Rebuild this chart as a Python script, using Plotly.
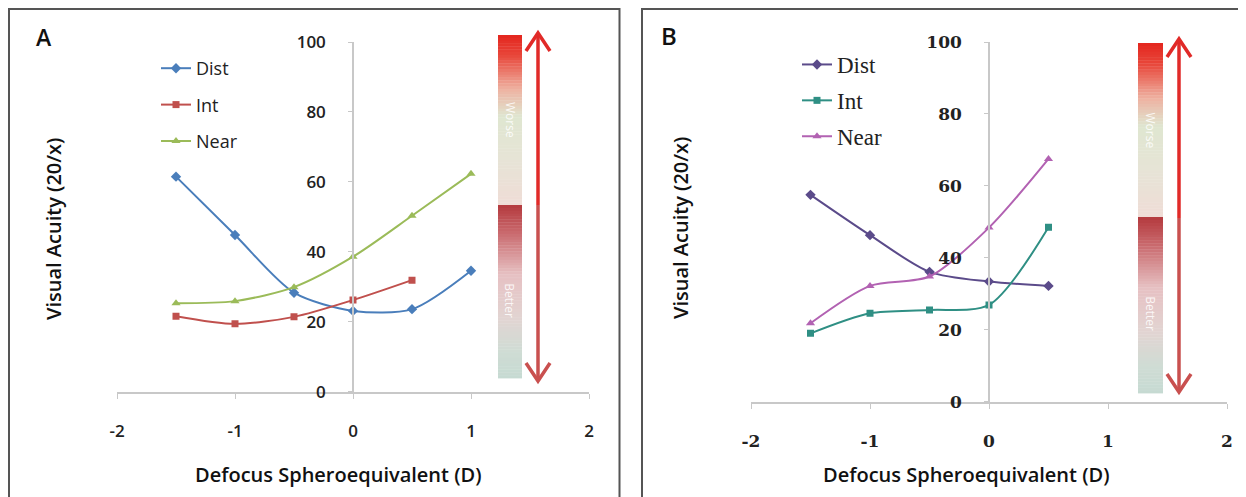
import plotly.graph_objects as go

# page is shown with an 8px body margin; figure is sized to fit the window
OFF = 8
W, H = 1246 - OFF, 497 - OFF

# ---------------- data ----------------
x_a = [-1.5, -1.0, -0.5, 0.0, 0.5, 1.0]
dist_a = [61.5, 44.8, 28.3, 23.1, 23.6, 34.6]
x_int_a = [-1.5, -1.0, -0.5, 0.0, 0.5]
int_a = [21.6, 19.4, 21.4, 26.2, 31.9]
near_a = [25.3, 25.9, 29.9, 38.6, 50.3, 62.3]

x_b = [-1.5, -1.0, -0.5, 0.0, 0.5]
dist_b = [57.5, 46.3, 36.1, 33.4, 32.2]
int_b = [19.0, 24.6, 25.5, 26.9, 48.5]
near_b = [21.8, 32.2, 34.8, 48.4, 67.5]

x_ticks = [-2, -1, 0, 1, 2]
x_tick_text = ["-2", "-1", "0", "1", "2"]
y_ticks = [0, 20, 40, 60, 80, 100]
series_names = ["Dist", "Int", "Near"]
panel_labels = ["A", "B"]
x_title = "Defocus Spheroequivalent (D)"
y_title = "Visual Acuity (20/x)"
scale_labels = ["Worse", "Better"]


def px(x):
    return (x - OFF) / W


def py(y):
    return 1 - (y - OFF) / H


def hex2rgb(h):
    h = h.lstrip("#")
    return tuple(int(h[i:i + 2], 16) for i in (0, 2, 4))


def interp(stops, t):
    for (t0, c0), (t1, c1) in zip(stops[:-1], stops[1:]):
        if t0 <= t <= t1:
            f = (t - t0) / (t1 - t0) if t1 > t0 else 0
            a, b = hex2rgb(c0), hex2rgb(c1)
            return "rgb(%d,%d,%d)" % tuple(round(a[i] + (b[i] - a[i]) * f) for i in range(3))
    return stops[-1][1]


fig = go.Figure()

sans = "Open Sans"
serif = "DejaVu Serif"

cols_a = ["#4a7ebb", "#c0504d", "#9bbb59"]
syms = ["diamond", "square", "triangle-up"]
msize = [8, 7, 8]
xs_a = [x_a, x_int_a, x_a]
ys_a = [dist_a, int_a, near_a]
for i in range(3):
    fig.add_trace(go.Scatter(
        x=xs_a[i], y=ys_a[i], name=series_names[i], mode="lines+markers",
        line=dict(color=cols_a[i], width=2, shape="spline", smoothing=0.8),
        marker=dict(symbol=syms[i], size=msize[i], color=cols_a[i]),
        xaxis="x", yaxis="y", legend="legend", legendgroup="a%d" % i,
    ))

cols_b = ["#5b4b8a", "#2f8f84", "#b262b2"]
ys_b = [dist_b, int_b, near_b]
for i in range(3):
    fig.add_trace(go.Scatter(
        x=x_b, y=ys_b[i], name=series_names[i], mode="lines+markers",
        line=dict(color=cols_b[i], width=2, shape="spline", smoothing=0.8),
        marker=dict(symbol=syms[i], size=msize[i], color=cols_b[i]),
        xaxis="x2", yaxis="y2", legend="legend2", legendgroup="b%d" % i,
    ))

axcol = "#c8c8c8"
tick_font_a = dict(family=sans, size=17, color="#222222", weight=600)
tick_font_b = dict(family=serif, size=17, color="#222222", weight=600)

common_x = dict(range=[-2, 2], tickvals=x_ticks, ticktext=x_tick_text, showline=True, linecolor=axcol,
                linewidth=2, ticks="outside", ticklen=5, tickcolor=axcol, showgrid=False, zeroline=False,
                ticklabelstandoff=18, automargin=False)
common_y = dict(range=[0, 100], tickvals=y_ticks, showline=True, linecolor=axcol, linewidth=1.5,
                ticks="outside", ticklen=4, tickcolor=axcol, showgrid=False, zeroline=False,
                anchor="free", ticklabelstandoff=19, automargin=False)

fig.update_layout(
    width=W, height=H, margin=dict(l=0, r=0, t=0, b=0, autoexpand=False),
    paper_bgcolor="white", plot_bgcolor="rgba(0,0,0,0)",
    xaxis=dict(domain=[px(117), px(589)], anchor="y", tickfont=tick_font_a, **common_x),
    yaxis=dict(domain=[py(391.7), py(42)], position=px(353), tickfont=tick_font_a, **common_y),
    xaxis2=dict(domain=[px(751), px(1227)], anchor="y2", tickfont=tick_font_b, **common_x),
    yaxis2=dict(domain=[py(401.7), py(42)], position=px(989), tickfont=tick_font_b, **common_y),
    legend=dict(x=px(156), y=py(50), xanchor="left", yanchor="top", traceorder="grouped",
                tracegroupgap=10, font=dict(family=sans, size=18, color="#222"),
                bgcolor="rgba(0,0,0,0)"),
    legend2=dict(x=px(797), y=py(43), xanchor="left", yanchor="top", traceorder="grouped",
                 tracegroupgap=3, font=dict(family="Liberation Serif", size=23, color="#222"),
                 bgcolor="rgba(0,0,0,0)"),
    showlegend=True,
)

shapes = []
annos = []

# panel borders (open where the reference is cut off)
shapes.append(dict(type="path", xref="paper", yref="paper",
                   path="M %f,%f L %f,%f L %f,%f L %f,%f" % (px(9), 0, px(9), py(9),
                                                             px(619.5), py(9), px(619.5), 0),
                   line=dict(color="#555555", width=2), layer="below"))
shapes.append(dict(type="path", xref="paper", yref="paper",
                   path="M %f,%f L %f,%f L %f,%f" % (px(642), 0, px(642), py(9), 1, py(9)),
                   line=dict(color="#555555", width=2), layer="below"))

top_stops = [(0, "#e4261e"), (0.12, "#e8463a"), (0.32, "#eeb2a2"), (0.48, "#dfe6d0"),
             (0.72, "#e6e4d6"), (1, "#efdcd6")]
bot_stops = [(0, "#b43a3e"), (0.15, "#c8666a"), (0.4, "#e6c0c2"), (0.65, "#e2d4d2"),
             (0.85, "#cfdcd4"), (1, "#c6dad2")]


def add_bar(x0, x1, ytop, ysplit, ybot, xarrow, atop, asplit, abot):
    n = 60
    for stops, y0, y1 in ((top_stops, ytop, ysplit), (bot_stops, ysplit, ybot)):
        h = (y1 - y0) / n
        for k in range(n):
            c = interp(stops, (k + 0.5) / n)
            shapes.append(dict(type="rect", xref="paper", yref="paper",
                               x0=px(x0), x1=px(x1), y0=py(y0 + (k + 1) * h + 0.4), y1=py(y0 + k * h),
                               line=dict(width=0), fillcolor=c, layer="below"))
    up_col, lo_col = "#e12a28", "#c9504f"
    shapes.append(dict(type="line", xref="paper", yref="paper", x0=px(xarrow), x1=px(xarrow),
                       y0=py(atop + 2), y1=py(asplit), line=dict(color=up_col, width=3.5)))
    shapes.append(dict(type="line", xref="paper", yref="paper", x0=px(xarrow), x1=px(xarrow),
                       y0=py(asplit), y1=py(abot - 2), line=dict(color=lo_col, width=3.5)))
    shapes.append(dict(type="path", xref="paper", yref="paper",
                       path="M %f,%f L %f,%f L %f,%f" % (px(xarrow - 12), py(atop + 18), px(xarrow), py(atop),
                                                         px(xarrow + 12), py(atop + 18)),
                       line=dict(color=up_col, width=3.5)))
    shapes.append(dict(type="path", xref="paper", yref="paper",
                       path="M %f,%f L %f,%f L %f,%f" % (px(xarrow - 12), py(abot - 18), px(xarrow), py(abot),
                                                         px(xarrow + 12), py(abot - 18)),
                       line=dict(color=lo_col, width=3.5)))
    xm = (x0 + x1) / 2
    annos.append(dict(xref="paper", yref="paper", x=px(xm), y=py(ytop + (ysplit - ytop) * 0.5),
                      xanchor="center", yanchor="middle",
                      text=scale_labels[0], textangle=90, showarrow=False,
                      font=dict(family=sans, size=12, color="rgba(255,255,255,0.85)")))
    annos.append(dict(xref="paper", yref="paper", x=px(xm), y=py(ysplit + (ybot - ysplit) * 0.55),
                      xanchor="center", yanchor="middle",
                      text=scale_labels[1], textangle=90, showarrow=False,
                      font=dict(family=sans, size=12, color="rgba(255,255,255,0.85)")))


add_bar(498, 522, 35, 205, 378, 538, 33, 205, 381)
add_bar(1138, 1163, 43, 217, 393, 1179, 39, 218, 392)

# panel letters
annos.append(dict(xref="paper", yref="paper", x=px(44), y=py(37), xanchor="center", yanchor="middle",
                  text=panel_labels[0], showarrow=False,
                  font=dict(family=sans, size=23, color="#111", weight=600)))
annos.append(dict(xref="paper", yref="paper", x=px(669), y=py(35), xanchor="center", yanchor="middle",
                  text=panel_labels[1], showarrow=False,
                  font=dict(family="Liberation Sans Narrow, " + sans, size=24, color="#111", weight=600)))

# axis titles
for xc, yc in ((338, 474), (966, 474)):
    annos.append(dict(xref="paper", yref="paper", x=px(xc), y=py(yc), xanchor="center", yanchor="middle",
                      text=x_title, showarrow=False,
                      font=dict(family=sans, size=20, color="#111", weight=600)))
for xc, yc in ((53, 229), (681, 228)):
    annos.append(dict(xref="paper", yref="paper", x=px(xc), y=py(yc), xanchor="center", yanchor="middle",
                      text=y_title, showarrow=False,
                      textangle=-90, font=dict(family=sans, size=20, color="#111", weight=600)))

fig.update_layout(shapes=shapes, annotations=annos)
fig.write_html("out.html")
